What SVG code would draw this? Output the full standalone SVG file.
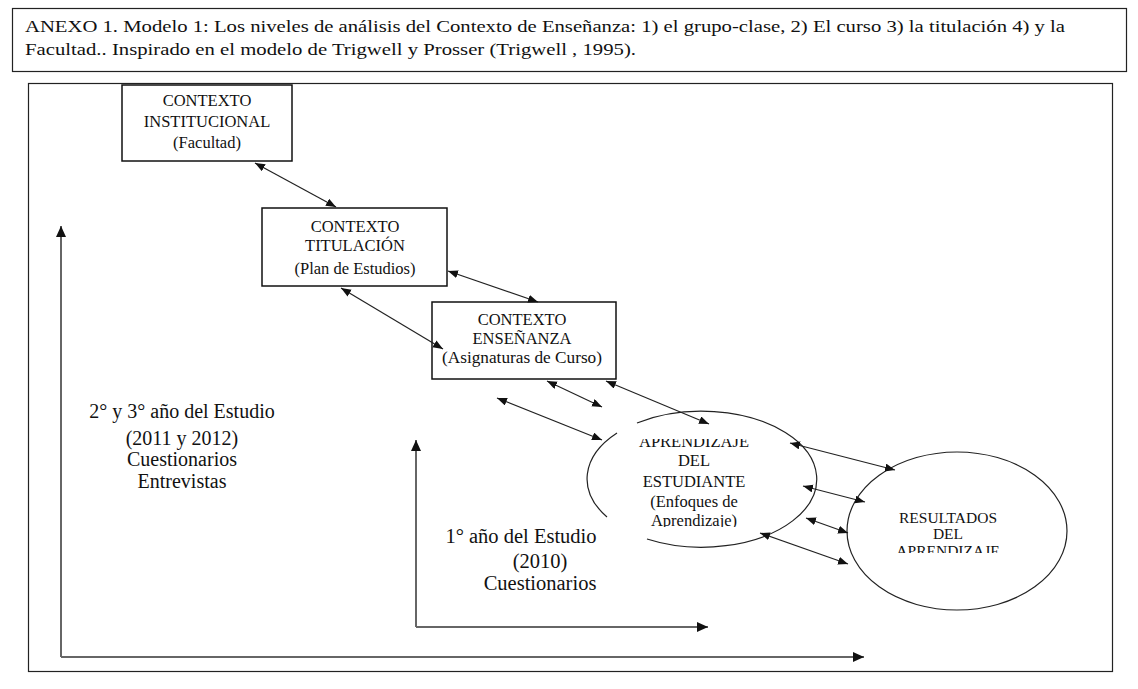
<svg xmlns="http://www.w3.org/2000/svg" width="1138" height="689" viewBox="0 0 1138 689">
<style>
.t{font-family:"Liberation Serif","Times New Roman","DejaVu Serif",serif;fill:#111}
.c{text-anchor:middle}
.box{fill:#fff;stroke:#111;stroke-width:1.5}
.ell{fill:none;stroke:#222;stroke-width:1.2}
.con{stroke:#222;stroke-width:1.2;fill:none;marker-start:url(#ah);marker-end:url(#ah)}
.axis{stroke:#666;stroke-width:2;fill:none;marker-end:url(#ax)}
</style>
<defs>
<marker id="ah" markerUnits="userSpaceOnUse" markerWidth="11" markerHeight="9" refX="10" refY="4" orient="auto-start-reverse"><path d="M0,0 L10,4 L0,8 z" fill="#111"/></marker>
<marker id="ax" markerUnits="userSpaceOnUse" markerWidth="12" markerHeight="10" refX="11" refY="5" orient="auto"><path d="M0,0 L11,5 L0,10 z" fill="#111"/></marker>
<clipPath id="clipA"><rect x="620" y="439" width="160" height="88"/></clipPath>
<clipPath id="clipR"><rect x="880" y="500" width="140" height="53"/></clipPath>
</defs>
<rect width="1138" height="689" fill="#fff"/>
<g id="title">
<rect x="12.5" y="8.5" width="1114" height="63" fill="#fff" stroke="#222" stroke-width="1.2"/>
<text class="t" x="25" y="32" font-size="17" textLength="1040" lengthAdjust="spacingAndGlyphs">ANEXO 1. Modelo 1: Los niveles de análisis del Contexto de Enseñanza: 1) el grupo-clase, 2) El curso 3) la titulación 4) y la</text>
<text class="t" x="25" y="55" font-size="17" textLength="611" lengthAdjust="spacingAndGlyphs">Facultad.. Inspirado en el modelo de Trigwell y Prosser (Trigwell , 1995).</text>
</g>
<rect id="frame" x="28.5" y="83.5" width="1084" height="588" fill="none" stroke="#222" stroke-width="1.2"/>
<g id="axes">
<path class="axis" d="M61,657 L61,226"/>
<path class="axis" d="M61,657 L864,657"/>
<path class="axis" d="M416,627 L416,440"/>
<path class="axis" d="M416,627 L708,627"/>
</g>
<g id="institucional">
<rect class="box" x="122" y="85" width="170" height="76"/>
<text class="t c" x="207" y="106" font-size="16.5">CONTEXTO</text>
<text class="t c" x="207" y="127" font-size="16.5">INSTITUCIONAL</text>
<text class="t c" x="207" y="148" font-size="16.5">(Facultad)</text>
</g>
<g id="titulacion">
<rect class="box" x="262" y="208" width="185" height="78"/>
<text class="t c" x="355" y="232" font-size="16.5">CONTEXTO</text>
<text class="t c" x="355" y="251" font-size="16.5">TITULACIÓN</text>
<text class="t c" x="355" y="274" font-size="16.5">(Plan de Estudios)</text>
</g>
<g id="ensenanza">
<rect class="box" x="432" y="302" width="184" height="77"/>
<text class="t c" x="522" y="325" font-size="16.5">CONTEXTO</text>
<text class="t c" x="522" y="344" font-size="16.5">ENSEÑANZA</text>
<text class="t c" x="522" y="363" font-size="16.5" textLength="160" lengthAdjust="spacingAndGlyphs">(Asignaturas de Curso)</text>
</g>
<g id="aprendizaje">
<path class="ell" d="M637,423 A115,68 0 1 1 647,539 M607,517 A115,68 0 0 1 617,433"/>
<g clip-path="url(#clipA)">
<text class="t c" x="694" y="447" font-size="16.5">APRENDIZAJE</text>
<text class="t c" x="694" y="466" font-size="16.5">DEL</text>
<text class="t c" x="694" y="487" font-size="16.5">ESTUDIANTE</text>
<text class="t c" x="694" y="507" font-size="16.5">(Enfoques de</text>
<text class="t c" x="694" y="526" font-size="16.5">Aprendizaje)</text>
</g>
</g>
<g id="resultados">
<ellipse class="ell" cx="957" cy="531" rx="110" ry="79"/>
<g clip-path="url(#clipR)">
<text class="t c" x="948" y="523" font-size="15.5">RESULTADOS</text>
<text class="t c" x="948" y="539" font-size="15.5">DEL</text>
<text class="t c" x="948" y="556" font-size="15.5">APRENDIZAJE</text>
</g>
</g>
<g id="label-2-3">
<text class="t c" x="182" y="418" font-size="20">2° y 3° año del Estudio</text>
<text class="t c" x="182" y="445" font-size="20">(2011 y 2012)</text>
<text class="t c" x="182" y="466" font-size="20">Cuestionarios</text>
<text class="t c" x="182" y="488" font-size="20">Entrevistas</text>
</g>
<g id="label-1">
<text class="t c" x="521" y="543" font-size="20.5">1° año del Estudio</text>
<text class="t c" x="540" y="568" font-size="20.5">(2010)</text>
<text class="t c" x="540" y="590" font-size="20.5">Cuestionarios</text>
</g>
<g id="connectors">
<line class="con" x1="255" y1="163" x2="336" y2="207"/>
<line class="con" x1="448" y1="271" x2="538" y2="302"/>
<line class="con" x1="341" y1="288" x2="443" y2="349"/>
<line class="con" x1="547" y1="381" x2="602" y2="407"/>
<line class="con" x1="606" y1="381" x2="709" y2="424"/>
<line class="con" x1="497" y1="398" x2="602" y2="440"/>
<line class="con" x1="790" y1="443" x2="895" y2="470"/>
<line class="con" x1="803" y1="486" x2="865" y2="502"/>
<line class="con" x1="806" y1="518" x2="848" y2="533"/>
<line class="con" x1="760" y1="533" x2="848" y2="564"/>
</g>
</svg>
